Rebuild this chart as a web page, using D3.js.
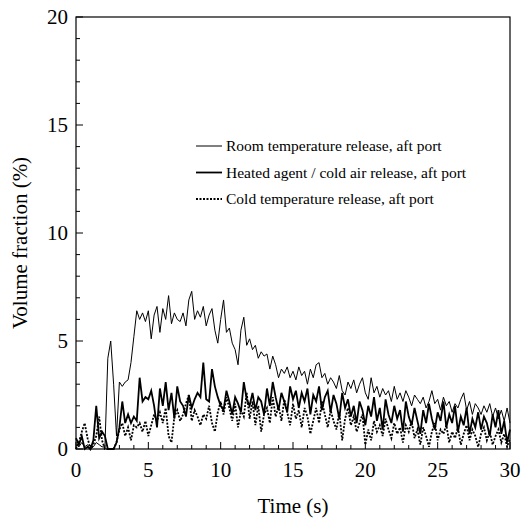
<!DOCTYPE html>
<html>
<head>
<meta charset="utf-8">
<script src="https://cdn.jsdelivr.net/npm/d3@7"></script>
<style>
  body { margin: 0; background: #fff; }
  text { font-family: "Liberation Serif", "Times New Roman", serif; fill: #000; }
</style>
</head>
<body>
<script>
// time step of the recorded traces (s)
var dt = 0.2;

var roomTemp = [
  0.2, 0.1, 0.3, 0.1, 0.2, 0.0, 0.1, 0.3, 0.2, 0.1,
  0.1, 4.2, 5.0, 3.0, 0.6, 3.1, 2.9, 3.1, 3.2, 4.0,
  5.2, 6.4, 6.0, 6.3, 5.9, 6.4, 5.1, 6.2, 6.6, 5.4,
  6.5, 6.0, 7.1, 5.8, 6.3, 6.0, 5.9, 6.3, 5.7, 6.9,
  7.3, 6.0, 6.4, 6.1, 6.6, 5.7, 6.2, 6.5, 5.5, 4.9,
  6.0, 6.9, 5.4, 5.6, 4.9, 4.6, 3.9, 5.5, 6.1, 4.8,
  5.1, 4.6, 4.8, 4.2, 4.5, 4.3, 4.4, 3.7, 4.3, 3.9,
  3.3, 3.7, 3.5, 3.8, 3.3, 3.6, 3.2, 3.8, 3.4, 3.6,
  3.0, 3.7, 3.3, 3.9, 4.0, 3.3, 3.5, 3.0, 3.3, 3.1,
  2.8, 3.4, 2.7, 2.5, 3.1, 2.8, 3.2, 2.6, 3.0, 3.3,
  2.6, 2.3, 3.3, 2.6, 2.9, 2.4, 2.8, 2.5, 2.7, 2.2,
  2.9, 2.3, 2.6, 2.2, 2.7, 2.4, 2.0, 2.5, 2.3, 2.1,
  2.4, 1.9, 2.2, 2.7, 2.1, 2.3, 1.8, 2.4, 2.0, 2.2,
  1.7, 2.1, 1.9, 2.3, 2.6, 1.8, 2.2, 1.6, 2.1, 1.9,
  1.6, 2.0, 1.7, 2.1, 1.5, 1.9, 1.4, 1.8, 1.3, 1.9, 1.2
];

var heatedAgent = [
  0.5, 0.2, 0.6, 0.0, 0.1, 0.0, 0.4, 2.0, 0.5, 0.8,
  0.6, 0.0, 0.0, 0.0, 0.3, 1.0, 2.2, 1.2, 1.6, 1.2,
  1.5, 1.3, 3.3, 2.2, 2.4, 2.3, 2.7, 2.0, 1.0, 2.8,
  2.0, 3.1, 1.8, 2.6, 1.4, 2.9, 2.2, 2.0, 1.5, 2.5,
  1.9, 2.3, 2.6, 2.4, 4.0, 2.3, 2.2, 3.7, 2.9, 2.4,
  2.0, 1.8, 2.7, 2.2, 1.6, 2.4, 2.1, 1.7, 3.1, 2.3,
  2.0, 2.6, 1.8, 2.4, 2.2, 1.6, 2.8, 2.0, 3.1, 2.4,
  1.8, 2.6, 2.2, 1.7, 2.9, 2.3, 2.7, 1.9, 2.6, 2.2,
  2.8, 1.6, 2.5, 2.2, 2.9, 1.8, 2.4, 2.7, 1.7, 2.5,
  2.1, 1.4, 2.6, 1.9, 2.3, 1.5, 2.0, 1.2, 2.2, 1.8,
  1.1, 2.0, 1.5, 2.4, 1.3, 1.9, 0.9, 2.3, 1.6, 1.2,
  2.0, 1.4, 1.8, 0.8, 2.2, 1.5, 1.1, 1.9, 1.3, 0.7,
  1.8, 1.2, 2.1, 1.4, 0.9, 1.7, 1.3, 2.2, 1.0, 1.6,
  1.2, 2.0, 0.8, 1.5, 1.1, 1.9, 0.7, 1.4, 1.0, 1.7,
  0.9, 1.5, 1.2, 0.6, 1.6, 1.0, 1.8, 0.7, 1.3, 0.3, 0.9
];

var coldTemp = [
  0.0, 0.3, 0.8, 1.2, 0.5, 0.0, 0.2, 0.6, 1.5, 0.4,
  0.0, 0.0, 0.0, 0.0, 0.3, 0.9, 1.2, 0.6, 1.0, 0.4,
  1.1, 1.0, 1.2, 0.8, 1.3, 0.6, 1.1, 1.6, 1.3, 1.7,
  1.2, 1.9, 0.6, 0.3, 1.5, 1.8, 1.3, 1.6, 2.1, 2.5,
  1.3, 1.8, 1.5, 1.1, 1.6, 1.4, 2.0, 1.2, 0.8, 1.7,
  2.2, 1.6, 2.4, 1.9, 1.3, 2.1, 1.0, 1.8, 1.5, 2.6,
  1.4, 2.2, 1.1, 2.0, 0.8, 1.6, 1.9, 1.2, 2.4, 1.5,
  2.0, 1.3, 2.3, 1.7, 1.1, 2.1, 1.4, 1.8, 1.0, 1.9,
  1.5, 0.7, 1.3, 1.9, 1.2, 2.2, 1.6, 1.0, 1.8, 1.3,
  0.9, 1.7, 0.4, 1.4, 1.9, 1.1, 1.5, 0.8, 1.2, 1.6,
  0.2, 0.9, 0.4, 1.3, 0.8, 1.1, 0.6, 1.4, 0.9, 0.5,
  1.2, 0.7, 1.0, 0.3, 1.1, 0.8, 1.3, 0.5, 0.9, 0.2,
  1.0, 0.6, 0.1, 0.8, 1.2, 0.4, 0.9, 0.7, 1.1, 0.3,
  0.8, 0.5, 1.0, 0.2, 0.7, 1.1, 0.4, 0.9, 0.6, 0.1,
  0.7, 1.0, 0.4, 0.8, 0.2, 0.6, 0.9, 0.3, 0.7, 0.1, 0.5
];

var seriesNames = [
  "Room temperature release, aft port",
  "Heated agent / cold air release, aft port",
  "Cold temperature release, aft port"
];
var xTicks = [0, 5, 10, 15, 20, 25, 30];
var yTicks = [0, 5, 10, 15, 20];

var W = 523, H = 525;
var margin = {left: 76, top: 17, right: 13, bottom: 76};

var svg = d3.select("body").append("svg")
  .attr("width", W)
  .attr("height", H);

var x = d3.scaleLinear().domain([0, 30]).range([margin.left, W - margin.right]);
var y = d3.scaleLinear().domain([0, 20]).range([H - margin.bottom, margin.top]);

// frame
svg.append("rect")
  .attr("x", x(0)).attr("y", y(20))
  .attr("width", x(30) - x(0)).attr("height", y(0) - y(20))
  .attr("fill", "none").attr("stroke", "#000").attr("stroke-width", 1.2);

// inward ticks, minor every 1
var xMinor = d3.range(0, 31, 1), yMinor = d3.range(0, 21, 1);
svg.append("g").selectAll("line").data(xMinor).join("line")
  .attr("x1", d => x(d)).attr("x2", d => x(d))
  .attr("y1", y(0)).attr("y2", d => y(0) - (d % 5 === 0 ? 7 : 4))
  .attr("stroke", "#000").attr("stroke-width", 1);
svg.append("g").selectAll("line").data(yMinor).join("line")
  .attr("y1", d => y(d)).attr("y2", d => y(d))
  .attr("x1", x(0)).attr("x2", d => x(0) + (d % 5 === 0 ? 7 : 4))
  .attr("stroke", "#000").attr("stroke-width", 1);

// tick labels
svg.append("g").selectAll("text").data(xTicks).join("text")
  .attr("x", d => x(d)).attr("y", y(0) + 28)
  .attr("text-anchor", "middle").attr("font-size", 21)
  .text(d => d);
svg.append("g").selectAll("text").data(yTicks).join("text")
  .attr("x", x(0) - 8).attr("y", d => y(d) + 7)
  .attr("text-anchor", "end").attr("font-size", 21)
  .text(d => d);

// axis titles
svg.append("text")
  .attr("x", (x(0) + x(30)) / 2).attr("y", 513)
  .attr("text-anchor", "middle").attr("font-size", 21)
  .text("Time (s)");
svg.append("text")
  .attr("transform", "translate(27," + ((y(0) + y(20)) / 2 + 10) + ") rotate(-90)")
  .attr("text-anchor", "middle").attr("font-size", 21)
  .text("Volume fraction (%)");

var line = d3.line()
  .x((d, i) => x(i * dt))
  .y(d => y(d));

var styles = [
  {data: roomTemp, width: 1, dash: null},
  {data: heatedAgent, width: 1.8, dash: null},
  {data: coldTemp, width: 1.8, dash: "2,1.5"}
];

var plot = svg.append("g");
// draw cold first, room last
[2, 1, 0].forEach(function (k) {
  plot.append("path")
    .datum(styles[k].data)
    .attr("d", line)
    .attr("fill", "none")
    .attr("stroke", "#000")
    .attr("stroke-width", styles[k].width)
    .attr("stroke-dasharray", styles[k].dash);
});

// legend
var legend = svg.append("g");
seriesNames.forEach(function (name, i) {
  var ly = 146 + i * 26.5;
  legend.append("line")
    .attr("x1", 196).attr("x2", 222)
    .attr("y1", ly).attr("y2", ly)
    .attr("stroke", "#000")
    .attr("stroke-width", styles[i].width)
    .attr("stroke-dasharray", styles[i].dash);
  legend.append("text")
    .attr("x", 226).attr("y", ly + 5)
    .attr("font-size", 15.5)
    .text(name);
});
</script>
</body>
</html>
